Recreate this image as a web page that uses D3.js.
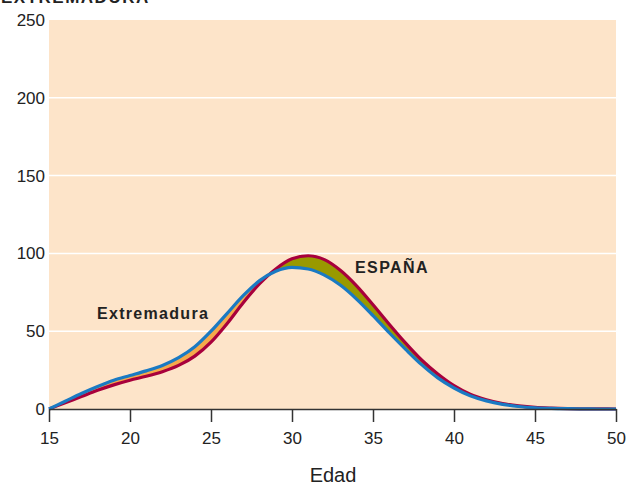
<!DOCTYPE html>
<html><head><meta charset="utf-8">
<script src="https://cdn.jsdelivr.net/npm/d3@7"></script>
<style>body{margin:0;background:#fff}svg{display:block}text{font-family:"Liberation Sans",Arial,sans-serif}</style>
</head><body><svg id="c" width="630" height="486"></svg>
<script>
const ages = d3.range(15, 51);
const extremadura = [0,5,10,14.5,18.5,21.5,24.5,28,33,40,50,61.5,73,82.5,88.5,91,90,86,79.5,70.5,60,49,38.5,28.5,20,13.5,8.5,5.2,3,1.6,0.8,0.4,0.2,0.1,0,0];
const espana =      [0,4,8,12,15.5,18.5,21,24,28,34,43,55,68.5,80.5,90,96.5,98.5,96,89,79,67,54.5,42.5,31.5,22.5,15,9.5,6,3.5,2,1,0.5,0.2,0.1,0.05,0];
const yTicks = [0,50,100,150,200,250];
const xTicks = [15,20,25,30,35,40,45,50];

const svg = d3.select('#c');
const m = {l:49, r:616, t:20, b:409};
const x = d3.scaleLinear().domain([15,50]).range([m.l, m.r]);
const y = d3.scaleLinear().domain([0,250]).range([m.b, m.t]);

const data = ages.map((a,i)=>({a, e: extremadura[i], s: espana[i]}));

svg.append('rect').attr('x',m.l).attr('y',m.t).attr('width',m.r-m.l).attr('height',m.b-m.t).attr('fill','#fde4c9');

svg.selectAll('.grid').data(yTicks.filter(d=>d>0 && d<250)).enter().append('line')
  .attr('x1',m.l).attr('x2',m.r).attr('y1',d=>y(d)).attr('y2',d=>y(d))
  .attr('stroke','#fff').attr('stroke-width',1.5);

const curve = d3.curveMonotoneX;
const defs = svg.append('defs');
defs.append('clipPath').attr('id','aboveS').append('path')
  .attr('d', d3.area().x(d=>x(d.a)).y0(m.t-10).y1(d=>y(d.s)).curve(curve)(data));
defs.append('clipPath').attr('id','belowS').append('path')
  .attr('d', d3.area().x(d=>x(d.a)).y0(m.b+10).y1(d=>y(d.s)).curve(curve)(data));

const between = d3.area().x(d=>x(d.a)).y0(d=>y(d.s)).y1(d=>y(d.e)).curve(curve);
svg.append('path').attr('d',between(data)).attr('fill','#f5a94b').attr('clip-path','url(#aboveS)');
svg.append('path').attr('d',between(data)).attr('fill','#999900').attr('clip-path','url(#belowS)');

svg.append('path').attr('d',d3.line().x(d=>x(d.a)).y(d=>y(d.s)).curve(curve)(data))
  .attr('fill','none').attr('stroke','#a8003c').attr('stroke-width',3.2);
svg.append('path').attr('d',d3.line().x(d=>x(d.a)).y(d=>y(d.e)).curve(curve)(data))
  .attr('fill','none').attr('stroke','#1a7ac3').attr('stroke-width',3.2);

// x axis
const xa = svg.append('g').attr('transform',`translate(0,${m.b})`)
  .call(d3.axisBottom(x).tickValues(xTicks).tickSize(13).tickSizeOuter(0).tickPadding(10));
xa.select('.domain').attr('stroke','#333').attr('stroke-width',1.5);
xa.selectAll('.tick line').attr('stroke','#333').attr('stroke-width',1.5);
xa.selectAll('.tick text').attr('fill','#222').style('font-size','17px').style('font-family','"Liberation Sans",Arial,sans-serif');

// y axis labels
const ya = svg.append('g').attr('transform',`translate(${m.l},0)`)
  .call(d3.axisLeft(y).tickValues(yTicks).tickSize(0).tickPadding(4));
ya.select('.domain').remove();
ya.selectAll('.tick text').attr('fill','#222').style('font-size','17px').style('font-family','"Liberation Sans",Arial,sans-serif');

svg.append('text').attr('x',333).attr('y',482).attr('text-anchor','middle').attr('fill','#222')
  .style('font-size','20px').text('Edad');
svg.append('text').attr('x',97).attr('y',319).attr('fill','#222')
  .style('font-size','16px').style('font-weight','bold').style('letter-spacing','1.3px').text('Extremadura');
svg.append('text').attr('x',355).attr('y',273).attr('fill','#222')
  .style('font-size','16px').style('font-weight','bold').style('letter-spacing','1.4px').text('ESPAÑA');
svg.append('text').attr('x',1).attr('y',3).attr('fill','#222')
  .style('font-size','17px').style('font-weight','bold').style('letter-spacing','1.5px').text('EXTREMADURA');
</script></body></html>
